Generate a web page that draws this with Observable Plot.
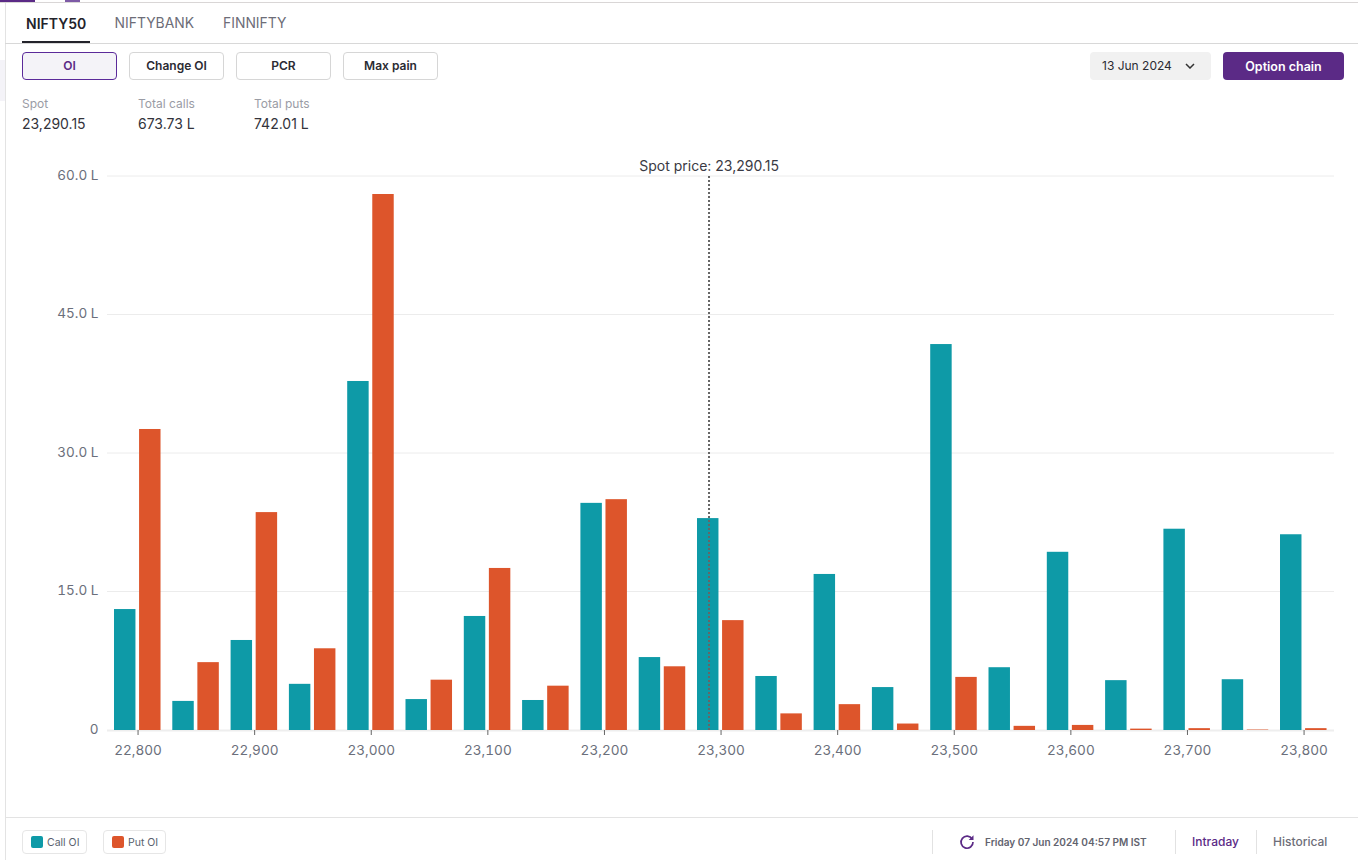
<!DOCTYPE html>
<html>
<head>
<meta charset="utf-8">
<script src="https://cdn.jsdelivr.net/npm/d3@7"></script>
<script src="https://cdn.jsdelivr.net/npm/@observablehq/plot@0.6"></script>
<style>
html,body{margin:0;padding:0;background:#fff;width:1358px;height:860px;overflow:hidden;font-family:Inter,"Noto Sans",sans-serif;}
.a{position:absolute;white-space:nowrap;line-height:1;}
.box{position:absolute;box-sizing:border-box;border-radius:4px;display:flex;align-items:center;justify-content:center;font-size:12px;font-weight:600;color:#2b2b33;background:#fff;border:1px solid #d6d6d6;height:28px;top:52px;width:95px;padding-bottom:2px;}
.leg{position:absolute;box-sizing:border-box;top:830px;height:24px;border:1px solid #e6e6e6;border-radius:4px;}
.sw{position:absolute;width:12px;height:12px;border-radius:2px;top:5px;left:8px;}
.leg span{position:absolute;left:24px;top:6px;font-size:10.5px;line-height:12px;color:#5a5f6e;white-space:nowrap;}
.vl{position:absolute;top:830px;height:24px;width:1px;background:#e2e2e2;}
#chart{position:absolute;left:0;top:150px;}
svg text{font-family:Inter,"Noto Sans",sans-serif;}
</style>
</head>
<body>
<div class="a" style="left:0;top:2px;width:1358px;height:1px;background:#d9d6d6"></div>
<div class="a" style="left:0;top:0;width:35px;height:2px;background:#5b2a86"></div>
<div class="a" style="left:65px;top:0;width:15px;height:2px;background:#7d5aa6"></div>
<div class="a" style="left:5px;top:3px;width:1px;height:857px;background:#e3e3e3"></div>
<div class="a" style="left:0;top:60px;width:5px;height:41px;background:#f4f3f8"></div>

<div class="a" style="left:26px;top:17px;font-size:14px;font-weight:600;color:#23232b">NIFTY50</div>
<div class="a" style="left:114.5px;top:17px;font-size:13.9px;color:#6d6d78">NIFTYBANK</div>
<div class="a" style="left:223px;top:17px;font-size:13.9px;color:#6d6d78">FINNIFTY</div>
<div class="a" style="left:22px;top:41px;width:68px;height:2px;background:#23232b"></div>
<div class="a" style="left:5px;top:43px;width:1353px;height:1px;background:#d8d8d8"></div>

<div class="box" style="left:22px;background:#f4f3f8;border-color:#5b2a9a;color:#5b2a86">OI</div>
<div class="box" style="left:129px">Change OI</div>
<div class="box" style="left:236px">PCR</div>
<div class="box" style="left:343px">Max pain</div>

<div class="box" style="left:1090px;width:121px;background:#f1f1f1;border:none;justify-content:flex-start;padding-left:12px;font-weight:400;color:#2b2b33">13 Jun 2024
  <svg width="10" height="6" viewBox="0 0 10 6" style="position:absolute;left:95px;top:11px"><path d="M1 1l4 4 4-4" fill="none" stroke="#333" stroke-width="1.5"/></svg>
</div>
<div class="box" style="left:1223px;width:121px;background:#5b2a86;border:none;color:#fff;font-size:12.5px;padding-bottom:0">Option chain</div>

<div class="a" style="left:22px;top:98px;font-size:12px;color:#9a9ca5">Spot</div>
<div class="a" style="left:138px;top:98px;font-size:12px;color:#9a9ca5">Total calls</div>
<div class="a" style="left:254px;top:98px;font-size:12px;color:#9a9ca5">Total puts</div>
<div class="a" style="left:22px;top:117px;font-size:14px;color:#33333b">23,290.15</div>
<div class="a" style="left:138px;top:117px;font-size:14px;color:#33333b">673.73 L</div>
<div class="a" style="left:254px;top:117px;font-size:14px;color:#33333b">742.01 L</div>

<div id="chart"></div>

<div class="a" style="left:5px;top:817px;width:1353px;height:1px;background:#e3e3e3"></div>
<div class="leg" style="left:22px;width:65px"><div class="sw" style="background:#0e9aa7"></div><span>Call OI</span></div>
<div class="leg" style="left:103px;width:63px"><div class="sw" style="background:#dd552b"></div><span>Put OI</span></div>
<div class="vl" style="left:932px"></div>
<div class="vl" style="left:1175px"></div>
<div class="vl" style="left:1256px"></div>
<svg class="a" style="left:959px;top:834px" width="16" height="16" viewBox="0 0 16 16"><path d="M13.2 5.2A6 6 0 1 0 14 8" fill="none" stroke="#5b2a86" stroke-width="1.7"/><path d="M14.5 1.2v4.8H9.7z" fill="#5b2a86"/></svg>
<div class="a" style="left:985px;top:837px;font-size:10.05px;font-weight:600;color:#62636e">Friday 07 Jun 2024 04:57 PM IST</div>
<div class="a" style="left:1192px;top:836px;font-size:12px;font-weight:500;color:#5b2a86">Intraday</div>
<div class="a" style="left:1273px;top:836px;font-size:12px;font-weight:500;color:#6d6d78">Historical</div>

<script>
const strikes = [22800,22850,22900,22950,23000,23050,23100,23150,23200,23250,23300,23350,23400,23450,23500,23550,23600,23650,23700,23750,23800];
const callOI = [13.1,3.15,9.75,5.0,37.8,3.35,12.35,3.25,24.6,7.9,22.95,5.85,16.9,4.65,41.8,6.8,19.3,5.4,21.8,5.5,21.2];
const putOI = [32.6,7.35,23.6,8.85,58.05,5.45,17.55,4.8,25.0,6.9,11.9,1.8,2.8,0.7,5.75,0.45,0.55,0.15,0.2,0.05,0.2];
const spot = 23290.15;
const yTicks = [0,15,30,45,60];
const xTicks = strikes.filter(s => s % 100 === 0);
const callColor = "#0e9aa7", putColor = "#dd552b";

const calls = strikes.map((s,i) => ({s, v: callOI[i]}));
const puts = strikes.map((s,i) => ({s, v: putOI[i]}));

const fmtComma = d3.format(",");
const chart = Plot.plot({
  width: 1358,
  height: 650,
  marginLeft: 107,
  marginRight: 24,
  marginTop: 26,
  marginBottom: 70,
  style: {background: "transparent", overflow: "visible"},
  x: {type: "linear", domain: [22773.8, 23826.1]},
  y: {domain: [0, 60]},
  marks: [
    Plot.gridY(yTicks.slice(1), {stroke: "#ececec", strokeOpacity: 1, strokeWidth: 1, dy: -0.5}),
    Plot.ruleY([0], {stroke: "#eeeeee", strokeWidth: 2}),
    Plot.rectY(calls, {x1: d => d.s - 20.2, x2: d => d.s - 1.8, y1: 0, y2: "v", fill: callColor}),
    Plot.rectY(puts, {x1: d => d.s + 1.3, x2: d => d.s + 19.7, y1: 0, y2: "v", fill: putColor}),
    Plot.axisY({ticks: yTicks, tickSize: 0, tickPadding: 9, fontSize: 13.5, dy: -1, color: "#6b6f7b", label: null,
      tickFormat: d => d === 0 ? "0" : d.toFixed(1) + " L"}),
    Plot.axisX({ticks: xTicks, tickSize: 5, tickPadding: 10, fontSize: 13.6, color: "#6b6f7b", stroke: "#666", label: null,
      tickFormat: fmtComma}),
    Plot.ruleX([spot], {y1: 0, y2: 60, stroke: "#666", strokeWidth: 2, strokeDasharray: "2,2", dx: -0.56}),
    Plot.text([spot], {x: d => d, y: 60, dy: -10, dx: -0.5, text: d => "Spot price: " + d3.format(",.2f")(d), fontSize: 14, fill: "#3a3a44"})
  ]
});
document.getElementById("chart").append(chart);
</script>
</body>
</html>
